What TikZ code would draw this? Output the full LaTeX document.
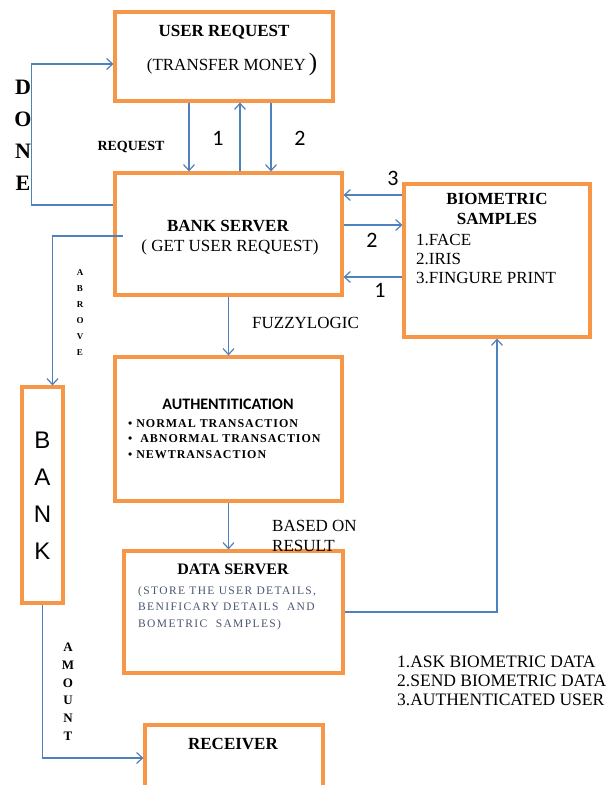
\documentclass[tikz,border=0pt]{standalone}
\usepackage{fontspec}
\setmainfont{Liberation Serif}
\newfontfamily\calibfont{Carlito}
\newfontfamily\arialfont{Liberation Sans}
\usetikzlibrary{arrows.meta}
\usetikzlibrary{calc}
\usepackage{xcolor}
\definecolor{boxorange}{HTML}{F79646}
\definecolor{linkblue}{HTML}{4F81BD}
\definecolor{notegray}{HTML}{4A5570}

\begin{document}
\begin{tikzpicture}[x=1pt,y=-1pt,
		box/.style={draw=boxorange,line width=3.1pt,inner sep=0pt},
		link/.style={draw=linkblue,line width=1.4pt,-{Straight Barb[length=6pt,width=11pt,line width=1.2pt]}},
		txt/.style={inner sep=0pt,font=\fontsize{17}{19}\selectfont},
		num/.style={inner sep=0pt,font=\calibfont\fontsize{22}{22}\selectfont}]
		
		\useasboundingbox (0,0) rectangle (608,785);
		
		% Boxes
		\node[box,minimum width=218,minimum height=89] (ureq) at (224,56.5) {};
		\node[box,minimum width=227,minimum height=122] (bserv) at (228.5,234) {};
		\node[box,minimum width=186,minimum height=153] (bio) at (497,260.5) {};
		\node[box,minimum width=227,minimum height=144] (auth) at (228.5,429) {};
		\node[box,minimum width=219,minimum height=122] (dserv) at (233.5,612) {};
		\node[box,minimum width=41,minimum height=216] (bank) at (42.5,495) {};
		\node[box,minimum width=178,minimum height=66] (recv) at (234,758) {};
		
		% Box texts
		\node[txt,font=\bfseries\fontsize{17}{19}\selectfont] (ureqtitle) at (224,32) {USER REQUEST};
		\node[txt] (ureqsub) at (232,64) {(TRANSFER MONEY\,{\fontsize{25}{25}\selectfont)}};
		\node[txt,font=\bfseries\fontsize{17}{19}\selectfont] (bservtitle) at (228,226) {BANK SERVER};
		\node[txt] (bservsub) at (230,247) {( GET USER REQUEST)};
		\node[txt,font=\bfseries\fontsize{17}{20}\selectfont,align=center,anchor=north] (biotitle) at (497,193) {BIOMETRIC\\SAMPLES};
		\node[txt,align=left,anchor=north west] (biolist) at (416,234) {1.FACE\\2.IRIS\\3.FINGURE PRINT};
		\node[txt,font=\calibfont\bfseries\fontsize{16}{16}\selectfont] (authtitle) at (228,404) {AUTHENTITICATION};
		\node[txt,font=\bfseries\fontsize{12}{15.5}\selectfont\addfontfeature{LetterSpace=8}\relax,align=left,anchor=north west] (authlist) at (128,419)
		{• NORMAL TRANSACTION\\•\ \ ABNORMAL TRANSACTION\\• NEWTRANSACTION};
		\node[txt,font=\bfseries\fontsize{16}{16}\selectfont] (dservtitle) at (233,569) {DATA SERVER};
		\node[txt,text=notegray,font=\fontsize{11.5}{16.5}\selectfont\addfontfeature{LetterSpace=12}\relax,align=left,anchor=north west] (dservlist) at (138,586)
		{(STORE THE USER DETAILS,\\BENIFICARY DETAILS\ \ AND\\BOMETRIC\ \ SAMPLES)};
		\node[txt,font=\bfseries\fontsize{17}{19}\selectfont] (recvtitle) at (233,744) {RECEIVER};
		\node[txt,font=\arialfont\fontsize{24}{37}\selectfont,align=center,anchor=north] (banktitle) at (42.5,431.4) {B\\A\\N\\K};
		
		% Connectors
		\draw[link] ([xshift=-35pt]ureq.south) -- ([xshift=-35pt]ureq.south |- bserv.north);
		\draw[link] ([xshift=16pt]ureq.south |- bserv.north) -- ([xshift=16pt]ureq.south);
		\draw[link] ([xshift=47pt]ureq.south) -- ([xshift=47pt]ureq.south |- bserv.north);
		\draw[link] ([yshift=29pt]bserv.west) -- ++(-82,0) |- ([yshift=-7.5pt]ureq.west);
		\draw[link] ([xshift=10pt,yshift=-2pt]bserv.west) -| ([xshift=10pt]bank.north);
		\draw[link] ([yshift=65.5pt]bio.west) -- ([yshift=65.5pt]bio.west -| bserv.east);
		\draw[link] ([yshift=35.5pt]bio.west -| bserv.east) -- ([yshift=35.5pt]bio.west);
		\draw[link] ([yshift=-16.5pt]bio.west) -- ([yshift=-16.5pt]bio.west -| bserv.east);
		\draw[link] (bserv.south) -- (auth.north);
		\draw[link] (auth.south) -- (auth.south |- dserv.north);
		\draw[link] (dserv.east) -| (bio.south);
		\draw[link] (bank.south) |- (recv.west);
		
		% Connector labels
		\node[txt,font=\bfseries\fontsize{14}{14}\selectfont] (reqlbl) at (131,147) {REQUEST};
		\node[num] (one) at (218,138) {1};
		\node[num] (two) at (300,138) {2};
		\node[num] (three) at (393,178) {3};
		\node[num] (twob) at (372,240) {2};
		\node[num] (oneb) at (380,290) {1};
		\node[txt,font=\bfseries\fontsize{22}{32}\selectfont,align=center,anchor=north] (done) at (23,79.7) {D\\O\\N\\E};
		\node[txt,font=\bfseries\fontsize{9}{16}\selectfont,align=center,anchor=north] (abrove) at (80,269) {A\\B\\R\\O\\V\\E};
		\node[txt,anchor=west] (fuzzy) at (252,323) {FUZZYLOGIC};
		\node[txt,font=\fontsize{17}{20}\selectfont,align=left,anchor=north west] (based) at (272,520.4) {BASED ON\\RESULT};
		\node[txt,font=\bfseries\fontsize{13}{17.8}\selectfont,align=center,anchor=north] (amount) at (68,642.7) {A\\M\\O\\U\\N\\T};
		
		% Legend
		\node[txt,font=\fontsize{17.5}{19}\selectfont,align=left,anchor=north west] (legend) at (397,655.7)
		{1.ASK BIOMETRIC DATA\\2.SEND BIOMETRIC DATA\\3.AUTHENTICATED USER};
		
	\end{tikzpicture}
\end{document}
